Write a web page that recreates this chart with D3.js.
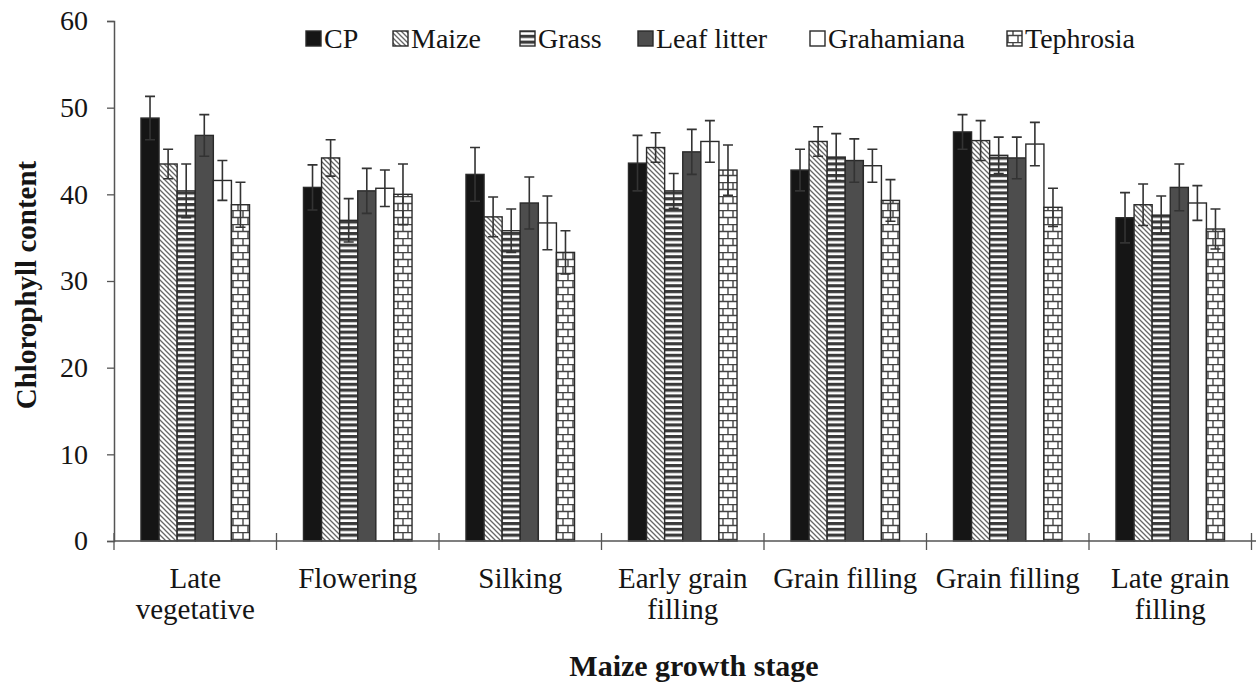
<!DOCTYPE html>
<html lang="en">
<head>
<meta charset="utf-8">
<title>Chlorophyll content by maize growth stage</title>
<script src="https://d3js.org/d3.v7.min.js"></script>
<style>
  body { margin: 0; background: #fff; }
  text { font-family: "Liberation Serif", "Times New Roman", serif; fill: #151515; }
</style>
</head>
<body>
<script>
// data
var stages = ["Late vegetative", "Flowering", "Silking", "Early grain filling",
              "Grain filling", "Grain filling", "Late grain filling"];
var stageLines = [["Late", "vegetative"], ["Flowering"], ["Silking"], ["Early grain", "filling"],
                  ["Grain filling"], ["Grain filling"], ["Late grain", "filling"]];
var treatments = ["CP", "Maize", "Grass", "Leaf litter", "Grahamiana", "Tephrosia"];

var cp         = [48.8, 40.8, 42.3, 43.6, 42.8, 47.2, 37.3];
var maize      = [43.5, 44.2, 37.4, 45.4, 46.1, 46.2, 38.8];
var grass      = [40.4, 37.0, 35.8, 40.4, 44.3, 44.5, 37.6];
var leafLitter = [46.8, 40.4, 39.0, 44.9, 43.9, 44.2, 40.8];
var grahamiana = [41.6, 40.7, 36.7, 46.1, 43.3, 45.8, 39.0];
var tephrosia  = [38.8, 40.0, 33.3, 42.8, 39.3, 38.5, 36.0];

var cpErr         = [2.5, 2.6, 3.1, 3.2, 2.4, 2.0, 2.9];
var maizeErr      = [1.7, 2.1, 2.3, 1.7, 1.7, 2.3, 2.4];
var grassErr      = [3.1, 2.5, 2.5, 2.0, 2.7, 2.1, 2.2];
var leafLitterErr = [2.4, 2.6, 3.0, 2.6, 2.5, 2.4, 2.7];
var grahamianaErr = [2.3, 2.1, 3.1, 2.4, 1.9, 2.5, 2.0];
var tephrosiaErr  = [2.6, 3.5, 2.5, 2.9, 2.4, 2.2, 2.3];

var yTicks = [0, 10, 20, 30, 40, 50, 60];

var values = [cp, maize, grass, leafLitter, grahamiana, tephrosia];
var errors = [cpErr, maizeErr, grassErr, leafLitterErr, grahamianaErr, tephrosiaErr];

// flatten into rows for the bars
var rows = [];
stages.forEach(function(s, i) {
  treatments.forEach(function(t, j) {
    rows.push({ stage: i, treat: t, ti: j, v: values[j][i], e: errors[j][i] });
  });
});

var w = 1256, h = 686;
var plotL = 114, plotR = 1251.5, plotT = 21, plotB = 541;

var svg = d3.select("body").append("svg")
  .attr("width", w).attr("height", h);

// fill patterns
var defs = svg.append("defs");

var p1 = defs.append("pattern").attr("id", "diag")
  .attr("patternUnits", "userSpaceOnUse").attr("width", 5).attr("height", 5);
p1.append("rect").attr("width", 5).attr("height", 5).attr("fill", "#fff");
p1.append("path").attr("d", "M-1,-1 L6,6 M-1,4 L1,6 M4,-1 L6,1")
  .attr("stroke", "#666").attr("stroke-width", 1.3);

var p2 = defs.append("pattern").attr("id", "hstripe")
  .attr("patternUnits", "userSpaceOnUse").attr("width", 6).attr("height", 5.8);
p2.append("rect").attr("width", 6).attr("height", 5.8).attr("fill", "#fff");
p2.append("rect").attr("y", 0).attr("width", 6).attr("height", 3.2).attr("fill", "#3a3a3a");

var p3 = defs.append("pattern").attr("id", "brick")
  .attr("patternUnits", "userSpaceOnUse").attr("width", 10).attr("height", 14);
p3.append("rect").attr("width", 10).attr("height", 14).attr("fill", "#fff");
p3.append("path").attr("d", "M0,0.5 H10 M0,7.5 H10 M3,0 V7 M8,7 V14")
  .attr("stroke", "#444").attr("stroke-width", 1.4).attr("fill", "none");

var fills = {
  "CP": "#151515",
  "Maize": "url(#diag)",
  "Grass": "url(#hstripe)",
  "Leaf litter": "#4d4d4d",
  "Grahamiana": "#fff",
  "Tephrosia": "url(#brick)"
};

// scales
var x0 = d3.scaleBand().domain(d3.range(stages.length))
  .range([plotL, plotR]).paddingInner(0.332).paddingOuter(0.166);
var step = x0.step();
var x1 = d3.scaleBand().domain(treatments).range([0, x0.bandwidth()]);
var y = d3.scaleLinear().domain([0, 60]).range([plotB, plotT]);

// y axis
var yAxis = svg.append("g").attr("transform", "translate(" + plotL + ",0)")
  .call(d3.axisLeft(y).tickValues(yTicks).tickSize(7).tickPadding(19));
yAxis.select(".domain").attr("stroke", "#555").attr("stroke-width", 1.5);
yAxis.selectAll(".tick line").attr("stroke", "#555").attr("stroke-width", 1.3);
yAxis.selectAll(".tick text").attr("font-size", 28).attr("fill", "#151515")
  .attr("font-family", "Liberation Serif, serif");

// bars
var bars = svg.append("g");
bars.selectAll("rect").data(rows).enter().append("rect")
  .attr("x", function(d) { return x0(d.stage) + x1(d.treat); })
  .attr("y", function(d) { return y(d.v); })
  .attr("width", x1.bandwidth())
  .attr("height", function(d) { return y(0) - y(d.v); })
  .attr("fill", function(d) { return fills[d.treat]; })
  .attr("stroke", "#2a2a2a").attr("stroke-width", 1.4);

// error bars
var eb = svg.append("g").attr("stroke", "#333").attr("stroke-width", 1.6).attr("fill", "none");
eb.selectAll("path").data(rows).enter().append("path")
  .attr("d", function(d) {
    var cx = x0(d.stage) + x1(d.treat) + x1.bandwidth() / 2;
    var y1 = y(d.v + d.e), y2 = y(d.v - d.e), c = 5;
    return "M" + cx + "," + y1 + "V" + y2 +
           "M" + (cx - c) + "," + y1 + "H" + (cx + c) +
           "M" + (cx - c) + "," + y2 + "H" + (cx + c);
  });

// x axis line + crossing ticks at band edges
svg.append("line").attr("x1", plotL).attr("x2", w).attr("y1", plotB).attr("y2", plotB)
  .attr("stroke", "#555").attr("stroke-width", 1.5);
var edges = d3.range(stages.length + 1).map(function(i) { return plotL + i * step; });
svg.selectAll(".xtick").data(edges).enter().append("line").attr("class", "xtick")
  .attr("x1", function(d) { return d; }).attr("x2", function(d) { return d; })
  .attr("y1", plotB - 8).attr("y2", plotB + 9)
  .attr("stroke", "#555").attr("stroke-width", 1.3);

// category labels
var cats = svg.append("g");
stageLines.forEach(function(lines, i) {
  var t = cats.append("text").attr("text-anchor", "middle").attr("font-size", 29)
    .attr("x", x0(i) + x0.bandwidth() / 2).attr("y", 588);
  lines.forEach(function(l, k) {
    t.append("tspan").attr("x", x0(i) + x0.bandwidth() / 2).attr("dy", k === 0 ? 0 : 31).text(l);
  });
});

// axis titles
svg.append("text").attr("text-anchor", "middle").attr("font-weight", "bold").attr("font-size", 30)
  .attr("x", 694).attr("y", 676).text("Maize growth stage");
svg.append("text").attr("text-anchor", "middle").attr("font-weight", "bold").attr("font-size", 29)
  .attr("transform", "translate(36,285) rotate(-90)").text("Chlorophyll  content");

// legend
var legendX = [306, 393, 520, 638, 810, 1007];
var leg = svg.append("g");
treatments.forEach(function(t, i) {
  leg.append("rect").attr("x", legendX[i]).attr("y", 31).attr("width", 15).attr("height", 15)
    .attr("fill", fills[t]).attr("stroke", "#2a2a2a").attr("stroke-width", 1.4);
  leg.append("text").attr("x", legendX[i] + 18).attr("y", 48).attr("font-size", 28).text(t);
});
</script>
</body>
</html>
